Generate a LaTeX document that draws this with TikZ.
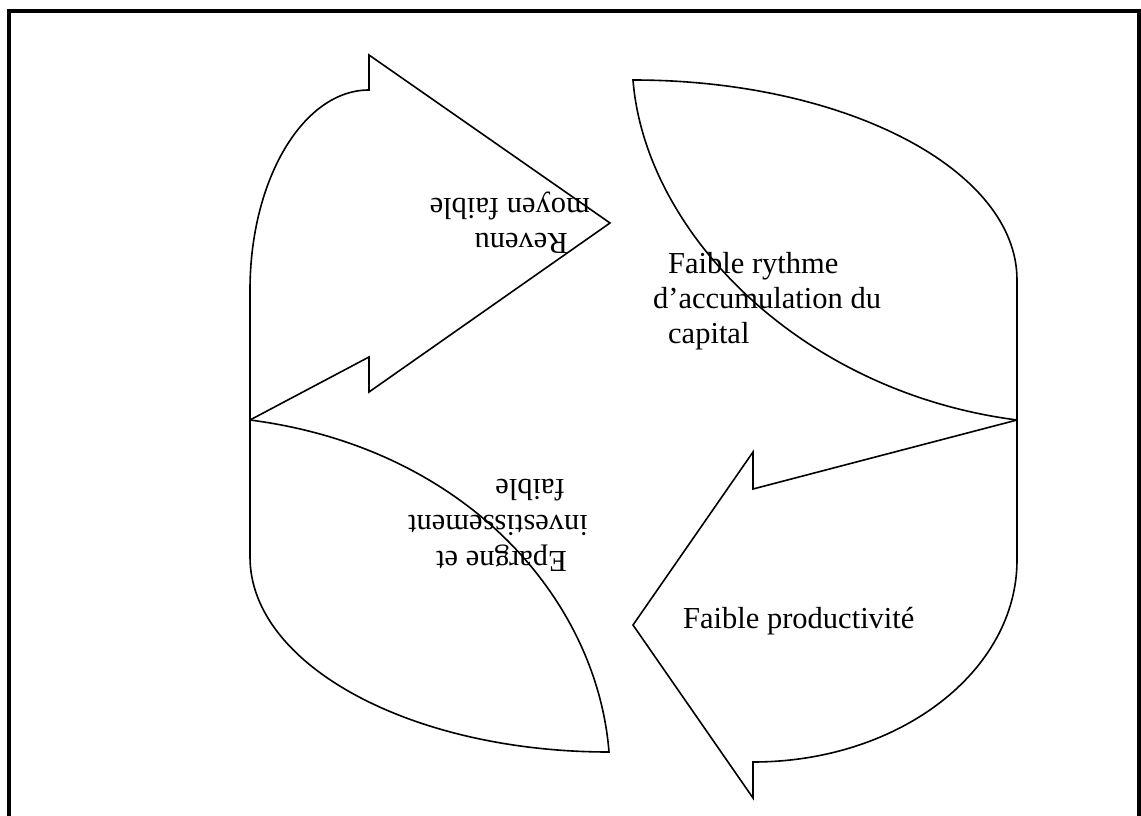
\documentclass[tikz,border=0pt]{standalone}
\usepackage{fontspec}
\setmainfont{Liberation Serif}
\begin{document}
\begin{tikzpicture}[x=1pt,y=-1pt,
  outline/.style={draw=black,line width=1.6pt,line join=miter},
  frame/.style={draw=black,line width=3.5pt},
  lbl/.style={inner sep=0pt,anchor=base west,font=\fontsize{30.5}{35}\selectfont},
  flipped/.style={lbl,rotate=180}]
\useasboundingbox (0,0) rectangle (1141,816);
\fill[white] (0,0) rectangle (1141,816);

% page frame (open at the bottom edge of the picture)
\begin{scope}
  \clip (0,0) rectangle (1141,816);
  \draw[frame] (9,840) -- (9,11) -- (1139,11) -- (1139,840);
\end{scope}

% corners shared by the four curved arrows
\coordinate (west) at (250,420);
\coordinate (east) at (1017,420);

% upper left arrow, pointing right
\draw[outline] (west) -- (369,357) -- (369,392) -- (610,223) -- (369,55) -- (369,90)
  .. controls (303.3,90) and (250,179.5) .. (250,290) -- cycle;

% upper right arrow body
\draw[outline] (633,80) .. controls (845,80) and (1017,169.5) .. (1017,280) -- (east)
  .. controls (800,392) and (645,232) .. (633,80) -- cycle;

% lower right arrow, pointing left
\draw[outline] (east) -- (753,489) -- (753,452) -- (633,625) -- (753,798) -- (753,762)
  .. controls (898.8,762) and (1017,671.6) .. (1017,560) -- cycle;

% lower left arrow body
\draw[outline] (west) -- (250,557) .. controls (250,664.7) and (410.7,752) .. (609,752)
  .. controls (597,600) and (467,448) .. (west) -- cycle;

% labels
\node[lbl] (rythme1) at (668,273) {Faible rythme};
\node[lbl] (rythme2) at (653,308) {d’accumulation du};
\node[lbl] (rythme3) at (668,343) {capital};
\node[lbl] (prod) at (683,628) {Faible productivité};
\node[flipped] (revenu1) at (568,233) {Revenu};
\node[flipped] (revenu2) at (590,198) {moyen faible};
\node[flipped] (epargne1) at (567,551) {Epargne et};
\node[flipped] (epargne2) at (588,515) {investissement};
\node[flipped] (epargne3) at (565,479) {faible};
\end{tikzpicture}
\end{document}
